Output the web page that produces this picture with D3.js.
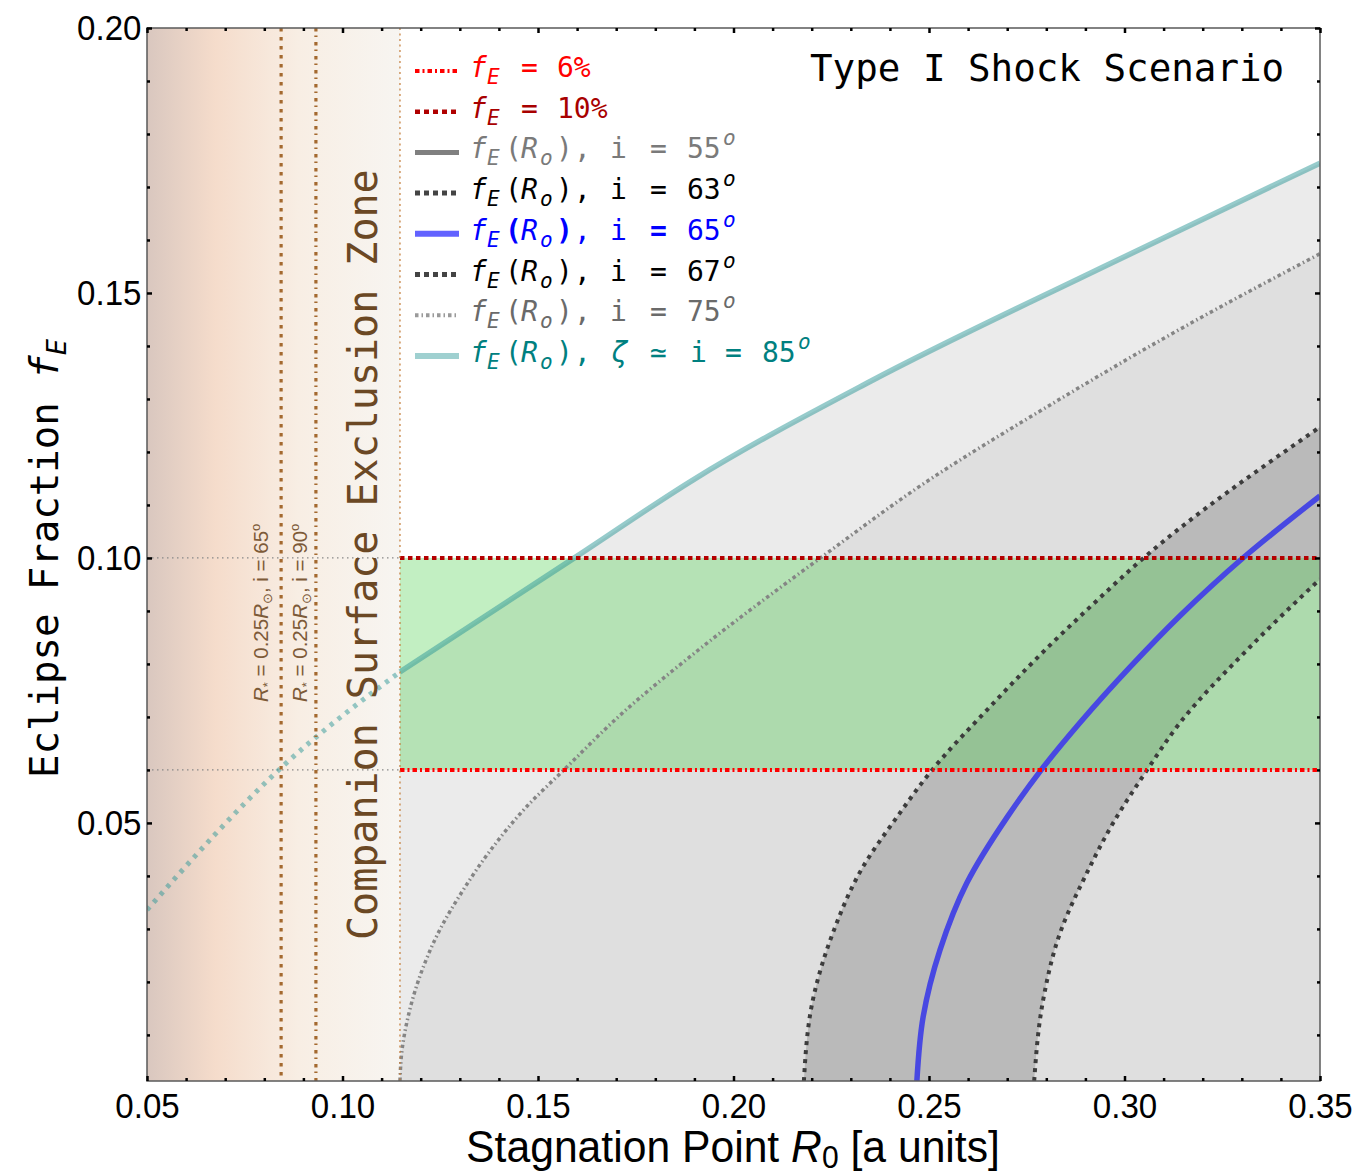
<!DOCTYPE html>
<html>
<head>
<meta charset="utf-8">
<script src="https://cdn.jsdelivr.net/npm/d3@7/dist/d3.min.js"></script>
<style>
  body { margin: 0; background: #fff; }
  .mono { font-family: "DejaVu Sans Mono", monospace; }
  .sans { font-family: "Liberation Sans", Arial, sans-serif; }
</style>
</head>
<body>
<div id="chart"></div>
<script>
// Eclipse fraction curves fE(R0)
var r0_85 = [0.05, 0.0843, 0.1147, 0.1597, 0.1896, 0.2347, 0.2948, 0.35];
var fE_85 = [0.0336, 0.0604, 0.0785, 0.1002, 0.1147, 0.1332, 0.1550, 0.1745];

var r0_75 = [0.1147, 0.1152, 0.1168, 0.1200, 0.1250, 0.1310, 0.1380, 0.1470, 0.1566, 0.1720, 0.1896, 0.2226, 0.2500, 0.2797, 0.3150, 0.35];
var fE_75 = [0.0013, 0.0070, 0.0135, 0.0215, 0.0300, 0.0375, 0.0450, 0.0530, 0.0600, 0.0710, 0.0818, 0.1002, 0.1147, 0.1283, 0.1435, 0.1574];

var r0_67 = [0.2180, 0.2203, 0.2254, 0.2331, 0.2418, 0.2508, 0.2648, 0.2802, 0.2930, 0.3052, 0.35];
var fE_67 = [0.0013, 0.0166, 0.0292, 0.0417, 0.0511, 0.0600, 0.0713, 0.0830, 0.0920, 0.1002, 0.1247];

var r0_65 = [0.2469, 0.2485, 0.2528, 0.2597, 0.2700, 0.2789, 0.2886, 0.3014, 0.3142, 0.3300, 0.35];
var fE_65 = [0.0013, 0.0134, 0.0260, 0.0387, 0.0511, 0.0602, 0.0689, 0.0794, 0.0891, 0.0998, 0.1117];

var r0_63 = [0.2769, 0.2792, 0.2835, 0.2904, 0.2971, 0.3058, 0.3142, 0.3321, 0.35];
var fE_63 = [0.0013, 0.0166, 0.0292, 0.0406, 0.0500, 0.0600, 0.0689, 0.0832, 0.0960];

// Reference levels
var fE_levels = [0.06, 0.10];          // 6% and 10%
var zoneEdge = 0.1147;                 // companion surface exclusion zone edge
var starLines = [0.0843, 0.0932];      // R* = 0.25 Rsun at i = 65 and 90

// Ticks
var xMajor = [0.05, 0.10, 0.15, 0.20, 0.25, 0.30, 0.35];
var yMajor = [0.05, 0.10, 0.15, 0.20];
var xMinor = d3.range(5, 36).map(function (d) { return d / 100; });
var yMinor = d3.range(1, 21).map(function (d) { return d / 100; });

// Legend
var legendVals = ['6%', '10%', '55', '63', '65', '67', '75', '85'];

function pts(xs, ys) { return xs.map(function (v, i) { return [v, ys[i]]; }); }

var W = 1358, H = 1174;
var plot = { left: 147, right: 1320, top: 28, bottom: 1081 };

var x = d3.scaleLinear().domain([0.05, 0.35]).range([plot.left, plot.right]);
var y = d3.scaleLinear().domain([0.0013, 0.2]).range([plot.bottom, plot.top]);

var svg = d3.select('#chart').append('svg')
  .attr('width', W).attr('height', H);

var defs = svg.append('defs');
defs.append('clipPath').attr('id', 'clip').append('rect')
  .attr('x', plot.left).attr('y', plot.top)
  .attr('width', plot.right - plot.left).attr('height', plot.bottom - plot.top);

var zg = defs.append('linearGradient').attr('id', 'zone')
  .attr('x1', 0).attr('x2', 1).attr('y1', 0).attr('y2', 0);
[[0, '#d9c7bf'], [0.27, '#f5dccb'], [0.6, '#f8eee4'], [1, '#f7f5f1']].forEach(function (s) {
  zg.append('stop').attr('offset', s[0]).attr('stop-color', s[1]);
});

// teal curve is monotone in x, the others rise vertically from the bottom so they are monotone in y
var lineX = d3.line()
  .x(function (d) { return x(d[0]); })
  .y(function (d) { return y(d[1]); })
  .curve(d3.curveMonotoneX);
var lineY = d3.line()
  .x(function (d) { return x(d[0]); })
  .y(function (d) { return y(d[1]); })
  .curve(d3.curveMonotoneY);

function under(lineGen, p) {
  var last = p[p.length - 1], first = p[0];
  return lineGen(p) + 'L' + x(last[0]) + ',' + plot.bottom + 'L' + x(first[0]) + ',' + plot.bottom + 'Z';
}

var p85 = pts(r0_85, fE_85);
var p85solid = p85.filter(function (d) { return d[0] >= zoneEdge; });
var p85dot = p85.filter(function (d) { return d[0] <= zoneEdge; });
var p75 = pts(r0_75, fE_75);
var p67 = pts(r0_67, fE_67);
var p65 = pts(r0_65, fE_65);
var p63 = pts(r0_63, fE_63);

var g = svg.append('g').attr('clip-path', 'url(#clip)');

// Exclusion zone
g.append('rect')
  .attr('x', x(0.05)).attr('y', plot.top)
  .attr('width', x(zoneEdge) - x(0.05)).attr('height', plot.bottom - plot.top)
  .attr('fill', 'url(#zone)');

// Grey regions
g.append('path').attr('d', under(lineX, p85solid)).attr('fill', '#ebebeb');
g.append('path').attr('d', under(lineY, p75)).attr('fill', '#dfdfdf');
g.append('path')
  .attr('d', lineY(p67) + 'L' + lineY(p63.slice().reverse()).slice(1) + 'Z')
  .attr('fill', '#bababa');

// Green band between 6% and 10%
g.append('rect')
  .attr('x', x(zoneEdge)).attr('y', y(fE_levels[1]))
  .attr('width', x(0.35) - x(zoneEdge)).attr('height', y(fE_levels[0]) - y(fE_levels[1]))
  .attr('fill', 'rgb(80,210,80)').attr('fill-opacity', 0.35);

// grey guide lines inside the zone
g.selectAll('.guide').data(fE_levels).enter().append('line')
  .attr('x1', x(0.05)).attr('x2', x(zoneEdge))
  .attr('y1', function (d) { return y(d); }).attr('y2', function (d) { return y(d); })
  .attr('stroke', '#888').attr('stroke-width', 1.3).attr('stroke-dasharray', '1.5,3.5');

// Curves
g.append('path').datum(p75).attr('d', lineY)
  .attr('fill', 'none').attr('stroke', '#858585').attr('stroke-width', 3.5)
  .attr('stroke-dasharray', '3.5,3,1.5,3');
[p67, p63].forEach(function (p) {
  g.append('path').datum(p).attr('d', lineY)
    .attr('fill', 'none').attr('stroke', '#3c3c3c').attr('stroke-width', 4)
    .attr('stroke-dasharray', '4,5');
});
g.append('path').datum(p65).attr('d', lineY)
  .attr('fill', 'none').attr('stroke', '#4848e2').attr('stroke-width', 5.5);
g.append('path').datum(p85solid).attr('d', lineX)
  .attr('fill', 'none').attr('stroke', 'rgb(45,152,152)').attr('stroke-opacity', 0.5)
  .attr('stroke-width', 5.5);
g.append('path').datum(p85dot).attr('d', lineX)
  .attr('fill', 'none').attr('stroke', 'rgb(45,152,152)').attr('stroke-opacity', 0.5)
  .attr('stroke-width', 5).attr('stroke-dasharray', '4,6');

// 6% and 10% lines
g.append('line')
  .attr('x1', x(zoneEdge)).attr('x2', x(0.35))
  .attr('y1', y(fE_levels[1])).attr('y2', y(fE_levels[1]))
  .attr('stroke', '#b40000').attr('stroke-width', 4).attr('stroke-dasharray', '4.5,3.5');
g.append('line')
  .attr('x1', x(zoneEdge)).attr('x2', x(0.35))
  .attr('y1', y(fE_levels[0])).attr('y2', y(fE_levels[0]))
  .attr('stroke', '#ff0000').attr('stroke-width', 4).attr('stroke-dasharray', '4.5,3,2,3');

// vertical lines
g.append('line')
  .attr('x1', x(starLines[0])).attr('x2', x(starLines[0]))
  .attr('y1', plot.top).attr('y2', plot.bottom)
  .attr('stroke', '#a4692f').attr('stroke-width', 3.2).attr('stroke-dasharray', '3.5,5.5');
g.append('line')
  .attr('x1', x(starLines[1])).attr('x2', x(starLines[1]))
  .attr('y1', plot.top).attr('y2', plot.bottom)
  .attr('stroke', '#a4692f').attr('stroke-width', 3.2).attr('stroke-dasharray', '3.5,4,1.5,5');
g.append('line')
  .attr('x1', x(zoneEdge)).attr('x2', x(zoneEdge))
  .attr('y1', plot.top).attr('y2', plot.bottom)
  .attr('stroke', '#c27a35').attr('stroke-width', 1.2).attr('stroke-dasharray', '2,3.5');

// Labels on star lines
var starText = ['65', '90'];
[268, 307].forEach(function (bx, k) {
  var t = svg.append('text').attr('class', 'sans')
    .attr('transform', 'translate(' + bx + ',702) rotate(-90)')
    .attr('font-size', 20.5).attr('fill', '#7d5a38');
  t.append('tspan').attr('font-style', 'italic').text('R');
  t.append('tspan').attr('font-size', 13).attr('dy', 4).text('*');
  t.append('tspan').attr('dy', -4).text(' = 0.25');
  t.append('tspan').attr('font-style', 'italic').text('R');
  t.append('tspan').attr('font-size', 13).attr('dy', 4).text('\u2299');
  t.append('tspan').attr('dy', -4).text(', i = ' + starText[k]);
  t.append('tspan').attr('font-size', 13).attr('dy', -8).text('o');
});

// Zone label
svg.append('text').attr('class', 'mono')
  .attr('transform', 'translate(377,940) rotate(-90)')
  .attr('font-size', 40).attr('fill', '#6b4824')
  .text('Companion Surface Exclusion Zone');

// Title
svg.append('text').attr('class', 'mono')
  .attr('x', 810).attr('y', 81).attr('font-size', 37.5).attr('fill', '#000')
  .text('Type I Shock Scenario');

// Legend
var legendStyle = [
  { c: '#ff0000', lc: '#ff0000', w: 4, dash: '4.5,3,2,3' },
  { c: '#a80000', lc: '#b00000', w: 4.5, dash: '5,4' },
  { c: '#7a7a7a', lc: '#808080', w: 5, dash: null },
  { c: '#000', lc: '#444', w: 5, dash: '5,4' },
  { c: '#0000ff', lc: '#6262ff', w: 6, dash: null, bold: true },
  { c: '#000', lc: '#444', w: 5, dash: '5,4' },
  { c: '#6a6a6a', lc: '#9a9a9a', w: 4, dash: '3.5,3,1.5,3' },
  { c: '#008080', lc: '#9fd0d0', w: 6, dash: null }
];
legendVals.forEach(function (v, k) {
  var base = 77 + k * 40.7;
  var st = legendStyle[k];
  svg.append('line')
    .attr('x1', 415).attr('x2', 459).attr('y1', base - 6).attr('y2', base - 6)
    .attr('stroke', st.lc).attr('stroke-width', st.w)
    .attr('stroke-dasharray', st.dash);
  var lg = svg.append('g').attr('class', 'mono').attr('fill', st.c).attr('font-size', 28);
  function seg(px, s, opt) {
    opt = opt || {};
    lg.append('text').attr('x', px).attr('y', base + (opt.dy || 0))
      .attr('font-size', opt.fs || 28)
      .attr('font-style', opt.it ? 'italic' : 'normal')
      .attr('font-weight', opt.b && st.bold ? 'bold' : 'normal')
      .text(s);
  }
  seg(470, 'f', { it: true });
  seg(487, 'E', { it: true, fs: 21, dy: 7 });
  if (k < 2) {
    seg(521, '=');
    seg(557, v);
  } else {
    seg(505, '(', { b: true });
    seg(521, 'R', { it: true });
    seg(540, 'o', { it: true, fs: 21, dy: 7 });
    seg(556, ')', { b: true });
    seg(574, ',');
    if (k < 7) {
      seg(610, 'i');
      seg(650, '=', { b: true });
      seg(687, v);
      seg(723, 'o', { it: true, fs: 21, dy: -13 });
    } else {
      seg(611, '\u03B6', { it: true });
      seg(650, '\u2243');
      seg(690, 'i');
      seg(725, '=');
      seg(762, v);
      seg(798, 'o', { it: true, fs: 21, dy: -13 });
    }
  }
});

// Frame
svg.append('rect')
  .attr('x', plot.left).attr('y', plot.top)
  .attr('width', plot.right - plot.left).attr('height', plot.bottom - plot.top)
  .attr('fill', 'none').attr('stroke', '#5a5a5a').attr('stroke-width', 1.5);

function frameAxis(axis, tr, ticks, size, labels) {
  var a = axis.tickValues(ticks).tickSize(-size);
  if (labels) a.tickFormat(d3.format('.2f')); else a.tickFormat('');
  var ag = svg.append('g').attr('transform', tr).call(a);
  ag.select('.domain').remove();
  ag.selectAll('.tick line').attr('stroke', '#000').attr('stroke-width', 2.5);
  return ag;
}
var yMinorOnly = yMinor.filter(function (d) { return yMajor.indexOf(d) < 0; });
var xMinorOnly = xMinor.filter(function (d) { return xMajor.map(String).indexOf(String(d)) < 0; });

frameAxis(d3.axisBottom(x), 'translate(0,' + plot.bottom + ')', xMinorOnly, 3, false);
frameAxis(d3.axisTop(x), 'translate(0,' + plot.top + ')', xMinorOnly, 3, false);
frameAxis(d3.axisTop(x), 'translate(0,' + plot.top + ')', xMajor, 5, false);
frameAxis(d3.axisLeft(y), 'translate(' + plot.left + ',0)', yMinorOnly, 3, false);
frameAxis(d3.axisRight(y), 'translate(' + plot.right + ',0)', yMinorOnly, 3, false);
frameAxis(d3.axisRight(y), 'translate(' + plot.right + ',0)', yMajor, 5, false);

var xa = frameAxis(d3.axisBottom(x).tickPadding(11.5), 'translate(0,' + plot.bottom + ')', xMajor, 5, true);
xa.selectAll('text').attr('class', 'sans').attr('font-size', 36).attr('fill', '#000')
  .attr('transform', 'scale(0.92,1)');
var ya = frameAxis(d3.axisLeft(y).tickPadding(6), 'translate(' + plot.left + ',0)', yMajor, 5, true);
ya.selectAll('text').attr('class', 'sans').attr('font-size', 36).attr('fill', '#000')
  .attr('transform', 'scale(0.92,1)');

// Axis titles
var xt = svg.append('text').attr('class', 'sans')
  .attr('text-anchor', 'middle')
  .attr('transform', 'translate(733,1162) scale(0.97,1)')
  .attr('font-size', 44).attr('fill', '#000');
xt.append('tspan').text('Stagnation Point ');
xt.append('tspan').attr('font-style', 'italic').text('R');
xt.append('tspan').attr('font-size', 31).attr('dy', 6).text('0');
xt.append('tspan').attr('dy', -6).text(' [a units]');

var yt = svg.append('text').attr('class', 'mono')
  .attr('transform', 'translate(58,778) rotate(-90)')
  .attr('font-size', 39).attr('fill', '#000');
yt.append('tspan').text('Eclipse Fraction ');
yt.append('tspan').attr('font-style', 'italic').text('f');
yt.append('tspan').attr('font-style', 'italic').attr('font-size', 27).attr('dy', 8).text('E');
</script>
</body>
</html>
